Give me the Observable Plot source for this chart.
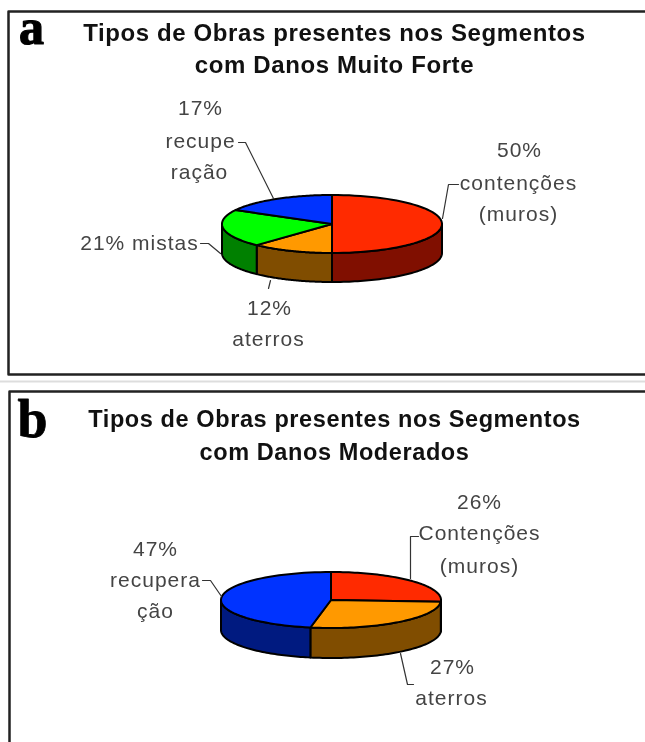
<!DOCTYPE html>
<html><head><meta charset="utf-8">
<script src="https://cdn.jsdelivr.net/npm/d3@7"></script>
<script src="https://cdn.jsdelivr.net/npm/@observablehq/plot@0.6"></script>
<style>html,body{margin:0;padding:0;background:#fff;overflow:hidden}svg{display:block;filter:blur(0.45px)}</style>
</head><body><div id="c"></div>
<script>
// data
const categoriesA = ["contenções", "aterros", "mistas", "recuperação"];
const valuesA = [50, 12, 21, 17];
const categoriesB = ["Contenções", "aterros", "recuperação"];
const valuesB = [26, 27, 47];
const titleA = ["Tipos de Obras presentes nos Segmentos", "com Danos Muito Forte"];
const titleB = ["Tipos de Obras presentes nos Segmentos", "com Danos Moderados"];
const labelsA = ["17%", "recupe", "ração", "50%", "contenções", "(muros)", "21% mistas", "12%", "aterros"];
const labelsB = ["26%", "Contenções", "(muros)", "47%", "recupera", "ção", "27%", "aterros"];

// layout
const palette = {
  "contenções": ["#ff2a00", "#800f00"], "Contenções": ["#ff2a00", "#800f00"],
  "aterros": ["#ff9900", "#804d00"], "mistas": ["#00ff00", "#008000"],
  "recuperação": ["#0033ff", "#001a80"]
};
const geomA = {cx: 332, cy: 224, rx: 110, ry: 29, depth: 29};
const geomB = {cx: 331, cy: 600, rx: 110, ry: 28, depth: 30};
const labelPosA = [[200,108],[200,141],[199,172],[519,150],[518,183],[518,214],[139,243],[269,308],[268,339]];
const labelPosB = [[479,502],[479,533],[479,566],[155,549],[155,580],[155,611],[452,667],[451,698]];
const leaders = [
  [[238,142],[245,142],[273,198]], [[458,184],[448,184],[442,218]],
  [[200,243],[208,243],[220,253]], [[270,280],[268,288]],
  [[418,536],[410,536],[410,578]], [[202,580],[210,580],[221,596]],
  [[400,653],[407,684],[413,684]]
];
const frames = [
  [[660,11],[8,11],[8,374],[660,374]],
  [[660,391],[9,391],[9,760]]
];

function slices(cats, vals) {
  const total = d3.sum(vals);
  let acc = 0;
  return cats.map((c, i) => {
    const a0 = acc / total * 360; acc += vals[i];
    const a1 = acc / total * 360;
    return {c, a0, a1};
  });
}
const pt = (g, deg) => {
  const t = deg * Math.PI / 180;
  return {x: g.cx + g.rx * Math.sin(t), y: g.cy - g.ry * Math.cos(t)};
};
const arc = (g, a0, a1) => d3.range(0, 61).map(k => pt(g, a0 + (a1 - a0) * k / 60));

function pieMarks(cats, vals, g) {
  const s = slices(cats, vals), walls = [], tops = [];
  for (const {c, a0, a1} of s) {
    const lo = Math.max(a0, 90), hi = Math.min(a1, 270);
    if (hi > lo) walls.push(Plot.area(arc(g, lo, hi), {
      x1: "x", y1: "y", x2: "x", y2: d => d.y + g.depth,
      fill: palette[c][1], stroke: "#000", strokeWidth: 2, strokeLinejoin: "round"
    }));
    tops.push(Plot.area(arc(g, a0, a1), {
      x1: () => g.cx, y1: () => g.cy, x2: "x", y2: "y",
      fill: palette[c][0], stroke: "#000", strokeWidth: 2, strokeLinejoin: "round"
    }));
  }
  return [...walls, ...tops];
}
const labelData = (labels, pos) => labels.map((t, i) => ({t, x: pos[i][0], y: pos[i][1]}));
const labelMark = (labels, pos) => Plot.text(labelData(labels, pos), {
  x: "x", y: "y", text: "t", fontFamily: "Liberation Sans", fontSize: 21,
  fill: "#444", textAnchor: "middle", lineAnchor: "middle"
});
const titleMark = (lines, ys, size) => Plot.text(lines.map((t, i) => ({t, y: ys[i]})), {
  x: () => 334, y: "y", text: "t", fontFamily: "Liberation Sans", fontWeight: "bold",
  fontSize: size, fill: "#111", textAnchor: "middle", lineAnchor: "middle"
});
const letterMark = (t, x, y, size, sw) => Plot.text([{t, x, y}], {
  x: "x", y: "y", text: "t", fontFamily: "Liberation Serif", fontWeight: "bold",
  fontSize: size, fill: "#000", stroke: "#000", strokeWidth: sw, textAnchor: "middle", lineAnchor: "middle"
});

const chart = Plot.plot({
  width: 645, height: 742, margin: 0,
  x: {domain: [0, 645], range: [0, 645], axis: null},
  y: {domain: [0, 742], range: [0, 742], axis: null},
  marks: [
    Plot.line([[0,381],[645,381]], {x: d => d[0], y: d => d[1], stroke: "#ddd", strokeWidth: 2}),
    ...frames.map(f => Plot.line(f, {x: d => d[0], y: d => d[1], stroke: "#222", strokeWidth: 2.5})),
    ...pieMarks(categoriesA, valuesA, geomA),
    ...pieMarks(categoriesB, valuesB, geomB),
    ...leaders.map(l => Plot.line(l, {x: d => d[0], y: d => d[1], stroke: "#333", strokeWidth: 1.2})),
    labelMark(labelsA, labelPosA),
    labelMark(labelsB, labelPosB),
    titleMark(titleA, [33, 65], 24),
    titleMark(titleB, [419, 452], 23.5),
    letterMark("a", 31, 27.5, 50, 1.2),
    letterMark("b", 32, 419, 54, 0.8)
  ]
});
chart.querySelectorAll("text").forEach(t => {
  const s = t.textContent;
  if (titleA.includes(s) || titleB.includes(s)) t.style.letterSpacing = "0.6px";
  else if (labelsA.includes(s) || labelsB.includes(s)) t.style.letterSpacing = "1px";
});
document.getElementById("c").append(chart);
</script></body></html>
